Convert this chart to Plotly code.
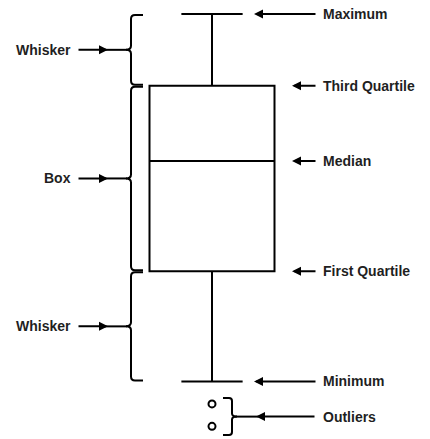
import plotly.graph_objects as go

# ---- data (box-plot statistics) ----
minimum = 2.0
q1 = 5.0
median = 8.0
q3 = 10.05
maximum = 12.0
outliers = [1.39, 0.78]

right_labels = ["Maximum", "Third Quartile", "Median", "First Quartile", "Minimum"]
right_values = [maximum, q3, median, q1, minimum]
left_labels = ["Whisker", "Box", "Whisker"]
left_spans = [(maximum, q3), (q3, q1), (q1, minimum)]
outlier_label = "Outliers"

# ---- layout helpers ----
W, H = 430, 439
Y_TOP, Y_BOT = 12.381, 0.435
PX = (Y_TOP - Y_BOT) / H  # data units per pixel


def dy(px):
    return px * PX


INK = "black"
TXT = "#1f1f1f"
FONT = dict(family="Liberation Sans, Arial, sans-serif", size=14, color=TXT)

fig = go.Figure()

fig.add_trace(go.Box(
    x=[212], q1=[q1], median=[median], q3=[q3],
    lowerfence=[minimum], upperfence=[maximum],
    width=125, whiskerwidth=0.49,
    fillcolor="white", line=dict(color=INK, width=2),
    boxpoints=False, hoverinfo="skip", showlegend=False,
))

fig.add_trace(go.Scatter(
    x=[212] * len(outliers), y=outliers, mode="markers",
    marker=dict(size=7, color="white", line=dict(color=INK, width=2)),
    hoverinfo="skip", showlegend=False,
))

shapes = []
annotations = []

ARROW = dict(showarrow=True, arrowhead=2, arrowsize=0.9, arrowwidth=2, arrowcolor=INK, text="")

# left braces
for (hi, lo), label in zip(left_spans, left_labels):
    top = hi - dy(1)
    bot = lo + dy(1)
    mid = (hi + lo) / 2
    xl, xh, xt = 131, 143, 126
    path = (f"M {xh},{top} L {xl+4},{top} Q {xl},{top} {xl},{top-dy(4)} "
            f"L {xl},{mid+dy(4)} Q {xl},{mid} {xt},{mid} Q {xl},{mid} {xl},{mid-dy(4)} "
            f"L {xl},{bot+dy(4)} Q {xl},{bot} {xl+4},{bot} L {xh},{bot}")
    shapes.append(dict(type="path", path=path, xref="x", yref="y",
                       line=dict(color=INK, width=2)))
    shapes.append(dict(type="line", x0=104, x1=127, y0=mid, y1=mid, xref="x", yref="y",
                       line=dict(color=INK, width=2)))
    annotations.append(dict(x=108, y=mid, ax=77, ay=mid, xref="x", yref="y",
                            axref="x", ayref="y", **ARROW))
    annotations.append(dict(x=73, y=mid, xref="x", yref="y", text=f"<b>{label}</b>",
                            showarrow=False, xanchor="right", yanchor="middle", font=FONT))

# right labels and arrows
for label, v in zip(right_labels, right_values):
    head = 254 if label in ("Maximum", "Minimum") else 292
    annotations.append(dict(x=head, y=v, ax=317, ay=v, xref="x", yref="y",
                            axref="x", ayref="y", **ARROW))
    annotations.append(dict(x=321, y=v, xref="x", yref="y", text=f"<b>{label}</b>",
                            showarrow=False, xanchor="left", yanchor="middle", font=FONT))

# outlier brace
omid = sum(outliers) / len(outliers) - dy(1.5)
otop = omid + dy(18.5)
obot = omid - dy(18.5)
xl, xh, xt = 232, 223, 237
path = (f"M {xh},{otop} L {xl-3},{otop} Q {xl},{otop} {xl},{otop-dy(3)} "
        f"L {xl},{omid+dy(3)} Q {xl},{omid} {xt},{omid} Q {xl},{omid} {xl},{omid-dy(3)} "
        f"L {xl},{obot+dy(3)} Q {xl},{obot} {xl-3},{obot} L {xh},{obot}")
shapes.append(dict(type="path", path=path, xref="x", yref="y", line=dict(color=INK, width=2)))
shapes.append(dict(type="line", x0=235, x1=258, y0=omid, y1=omid, xref="x", yref="y",
                   line=dict(color=INK, width=2)))
annotations.append(dict(x=256, y=omid, ax=316, ay=omid, xref="x", yref="y",
                        axref="x", ayref="y", **ARROW))
annotations.append(dict(x=321, y=omid, xref="x", yref="y", text=f"<b>{outlier_label}</b>",
                        showarrow=False, xanchor="left", yanchor="middle", font=FONT))

fig.update_layout(
    width=W, height=H,
    margin=dict(l=0, r=0, t=0, b=0),
    paper_bgcolor="white", plot_bgcolor="white",
    xaxis=dict(range=[0, W], visible=False, fixedrange=True),
    yaxis=dict(range=[Y_BOT, Y_TOP], visible=False, fixedrange=True),
    shapes=shapes, annotations=annotations,
    showlegend=False,
)

fig.write_html("out.html", config={"displayModeBar": False},
               post_script="document.body.style.margin='0';document.body.style.overflow='hidden';")
